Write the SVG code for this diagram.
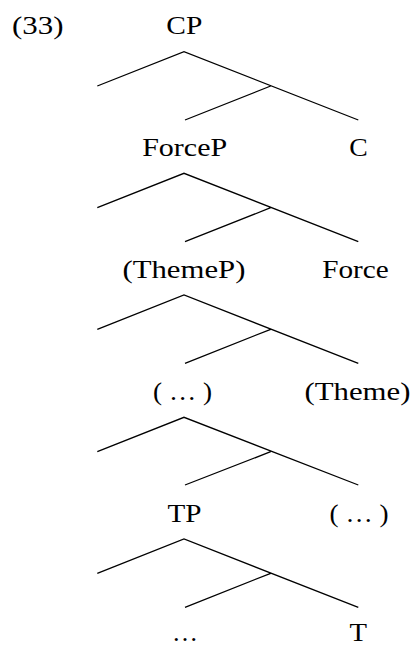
<svg xmlns="http://www.w3.org/2000/svg" width="417" height="646" viewBox="0 0 417 646">
<style>
text{font-family:"Liberation Serif","Times New Roman",serif;font-size:26px;fill:#000}
.m{text-anchor:middle}
.e{stroke:#000;stroke-width:1.3;fill:none;stroke-linecap:butt}
</style>
<rect width="417" height="646" fill="#fff"/>
<g id="connectors">
<path class="e" d="M97.3,86 L184,51.7 L358.3,120 M270.7,86 L185,120"/>
<path class="e" d="M97.3,207.7 L184,173.3 L358.3,241.7 M270.7,207.7 L185,241.7"/>
<path class="e" d="M97.3,329.3 L184,295 L358.3,363.3 M270.7,329.3 L185,363.3"/>
<path class="e" d="M97.3,451.7 L184,417.3 L358.3,485 M270.7,451.7 L185,485"/>
<path class="e" d="M97.3,573.3 L184,539 L358.3,607.3 M270.7,573.3 L185,607.3"/>
</g>
<g id="label33"><text x="12" y="33.5" textLength="51.5" lengthAdjust="spacingAndGlyphs">(33)</text></g>
<g id="CP"><text class="m" x="184.3" y="33.5" textLength="36" lengthAdjust="spacingAndGlyphs">CP</text></g>
<g id="ForceP"><text class="m" x="184.7" y="156" textLength="85" lengthAdjust="spacingAndGlyphs">ForceP</text></g>
<g id="C"><text class="m" x="358.6" y="156" textLength="18.5" lengthAdjust="spacingAndGlyphs">C</text></g>
<g id="ThemeP"><text class="m" x="183.9" y="277.5" textLength="123" lengthAdjust="spacingAndGlyphs">(ThemeP)</text></g>
<g id="Force"><text class="m" x="355.5" y="277.5" textLength="66.5" lengthAdjust="spacingAndGlyphs">Force</text></g>
<g id="dots1"><text class="m" x="182.5" y="399.5" textLength="59" lengthAdjust="spacingAndGlyphs">( … )</text></g>
<g id="Theme"><text class="m" x="357.5" y="399.5" textLength="106" lengthAdjust="spacingAndGlyphs">(Theme)</text></g>
<g id="TP"><text class="m" x="184.5" y="521.5" textLength="34" lengthAdjust="spacingAndGlyphs">TP</text></g>
<g id="dots2"><text class="m" x="359" y="521.5" textLength="59" lengthAdjust="spacingAndGlyphs">( … )</text></g>
<g id="dots3"><text class="m" x="185" y="640.5">…</text></g>
<g id="T"><text class="m" x="358.3" y="640.5" textLength="17.5" lengthAdjust="spacingAndGlyphs">T</text></g>
</svg>
